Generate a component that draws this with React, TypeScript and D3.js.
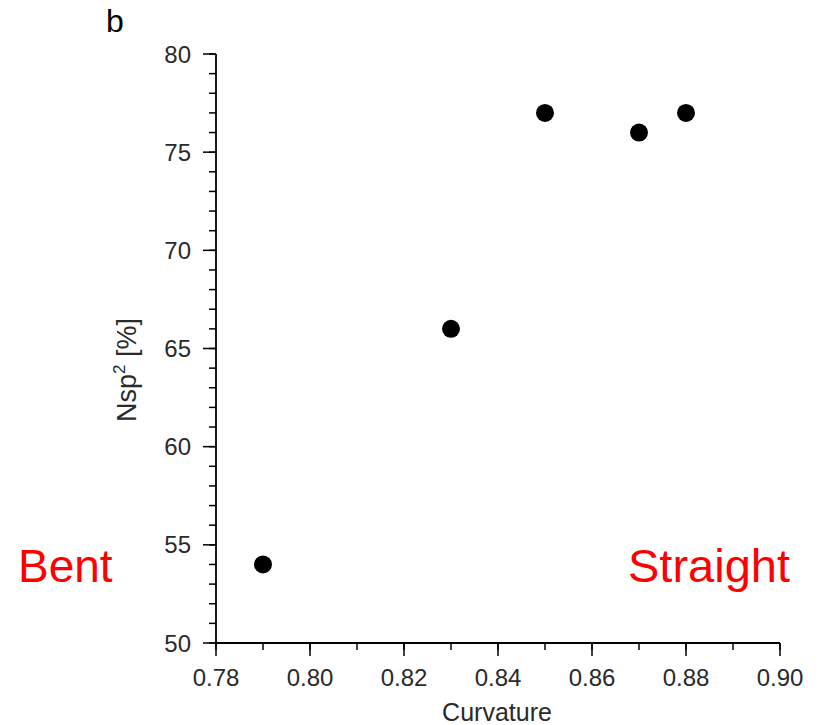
import React from "react";
import * as d3 from "d3";

const curvature = [0.79, 0.83, 0.85, 0.87, 0.88];
const nsp2 = [54, 66, 77, 76, 77];
const xTicks = [0.78, 0.8, 0.82, 0.84, 0.86, 0.88, 0.9];
const yTicks = [50, 55, 60, 65, 70, 75, 80];

export default function App() {
  const W = 819, H = 725;
  const x = d3.scaleLinear().domain([0.78, 0.9]).range([216, 780]);
  const y = d3.scaleLinear().domain([50, 80]).range([643, 54]);
  const xMinor = d3.range(0.78, 0.9001, 0.01);
  const yMinor = d3.range(50, 80.001, 1);
  const font = "'Liberation Sans', Arial, sans-serif";
  const tc = "#2a2a2a";
  return (
    <svg width={W} height={H} style={{ position: "absolute", left: 0, top: 0, background: "#fff" }}>
      <g fontFamily={font}>
        <line x1={x(0.78)} x2={x(0.78)} y1={y(80)} y2={y(50)} stroke="#000" strokeWidth={1.8} />
        <line x1={x(0.78)} x2={x(0.9)} y1={y(50)} y2={y(50)} stroke="#000" strokeWidth={1.8} />
        {yMinor.map((v, i) => (
          <line key={"ym" + i} x1={x(0.78) - 7} x2={x(0.78)} y1={y(v)} y2={y(v)} stroke="#000" strokeWidth={1.5} />
        ))}
        {yTicks.map((v) => (
          <g key={"y" + v}>
            <line x1={x(0.78) - 13} x2={x(0.78)} y1={y(v)} y2={y(v)} stroke="#000" strokeWidth={1.5} />
            <text x={x(0.78) - 25} y={y(v)} dy="0.36em" textAnchor="end" fontSize={24} fill={tc}>{v}</text>
          </g>
        ))}
        {xMinor.map((v, i) => (
          <line key={"xm" + i} x1={x(v)} x2={x(v)} y1={y(50)} y2={y(50) + 7} stroke="#000" strokeWidth={1.5} />
        ))}
        {xTicks.map((v) => (
          <g key={"x" + v}>
            <line x1={x(v)} x2={x(v)} y1={y(50)} y2={y(50) + 13} stroke="#000" strokeWidth={1.5} />
            <text x={x(v)} y={686} textAnchor="middle" fontSize={24} fill={tc}>{d3.format(".2f")(v)}</text>
          </g>
        ))}
        <text x={497} y={721} textAnchor="middle" fontSize={25} fill={tc}>Curvature</text>
        <text transform={`translate(136,370) rotate(-90)`} textAnchor="middle" fontSize={27} fill={tc}>
          Nsp<tspan dy={-11} fontSize={17}>2</tspan><tspan dy={11}> [%]</tspan>
        </text>
        <text x={106} y={32} fontSize={32} fill="#000">b</text>
        <text x={18} y={582} fontSize={46} fill="#ff0000">Bent</text>
        <text x={790} y={582} textAnchor="end" fontSize={47} fill="#ff0000">Straight</text>
        {curvature.map((c, i) => (
          <circle key={"p" + i} cx={x(c)} cy={y(nsp2[i])} r={9} fill="#000" />
        ))}
      </g>
    </svg>
  );
}
